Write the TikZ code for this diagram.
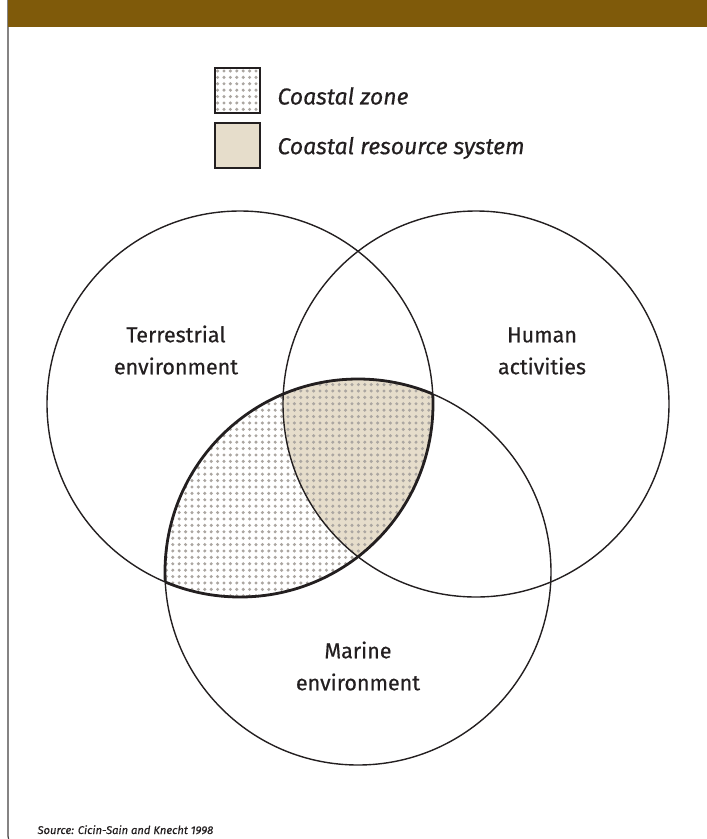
\documentclass[tikz,border=0pt]{standalone}
\usepackage{fontspec}
\setmainfont{Fira Sans}[FakeBold=0.5]
\usetikzlibrary{patterns}
\pgfdeclarepatternformonly{cdots}{\pgfpoint{-2pt}{-2pt}}{\pgfpoint{2pt}{2pt}}{\pgfpoint{6.4pt}{6.4pt}}{\pgfpathcircle{\pgfpointorigin}{1.7pt}\pgfusepath{fill}}
\definecolor{barbrown}{HTML}{7F5A0A}
\definecolor{beige}{HTML}{E6DDCB}
\definecolor{dotgray}{HTML}{ABA6A1}
\definecolor{ink}{HTML}{231F20}
\begin{document}
\begin{tikzpicture}[x=1pt,y=-1pt,
  venn/.style={circle,draw=ink,line width=1.4pt,minimum size=386pt,inner sep=0pt},
  lensline/.style={draw=ink,line width=2.8pt},
  label/.style={font=\fontsize{21.5}{32}\selectfont,align=center,text=ink},
  legtext/.style={font=\fontsize{23}{27}\selectfont\itshape,anchor=west,text=ink},
  legbox/.style={draw=ink,line width=2pt,minimum size=45pt,inner sep=0pt},
  dotfill/.style={pattern=cdots,pattern color=dotgray}]
\useasboundingbox (0,0) rectangle (707,839);
\begin{scope}
\clip (0,0) rectangle (707,839);
\draw[line width=1.2pt,draw=ink!85,rounded corners=10pt] (8,-20) rectangle (725,846);
\end{scope}
\fill[barbrown] (8,0) rectangle (707,27);
% centres
\coordinate (cL) at (240,404);
\coordinate (cR) at (476,404);
\coordinate (cB) at (358,572);
% coastal zone lens
\begin{scope}
\clip (cL) circle[radius=193];
\fill[dotfill] (cB) circle[radius=193];
\end{scope}
% coastal resource system
\begin{scope}
\clip (cL) circle[radius=193];
\clip (cR) circle[radius=193];
\fill[beige] (cB) circle[radius=193];
\fill[dotfill] (cB) circle[radius=193];
\end{scope}
% circles
\node[venn] (L) at (cL) {};
\node[venn] (R) at (cR) {};
\node[venn] (B) at (cB) {};
% thick lens boundary
\begin{scope}
\clip (cL) circle[radius=193];
\draw[lensline] (cB) circle[radius=193];
\end{scope}
\begin{scope}
\clip (cB) circle[radius=193];
\draw[lensline] (cL) circle[radius=193];
\end{scope}
% labels
\node[label] (tl) at (176,350) {Terrestrial\\environment};
\node[label] (hl) at (542,351) {Human\\activities};
\node[label] (ml) at (358,666) {Marine\\environment};
% legend
\node[legbox,fill=white] (k1) at (237.5,90.5) {};
\fill[dotfill] (216,69) rectangle (259,112);
\node[legbox] (k1b) at (237.5,90.5) {};
\node[legbox,fill=beige] (k2) at (237.5,145.5) {};
\node[legtext] (t1) at (274,96) {Coastal zone};
\node[legtext] (t2) at (274,148) {Coastal resource system};
% source
\node[font=\fontsize{11.2}{14}\selectfont\itshape,anchor=base west,text=ink] (src) at (34,834) {Source: Cicin-Sain and Knecht 1998};
\end{tikzpicture}
\end{document}
